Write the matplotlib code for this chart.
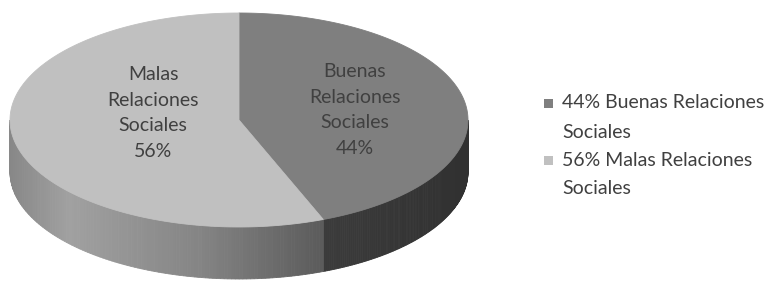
import numpy as np
import matplotlib
matplotlib.use('Agg')
import matplotlib.pyplot as plt
from matplotlib.patches import Polygon, Rectangle

# datos del gráfico
categorias = ['Buenas\nRelaciones\nSociales', 'Malas\nRelaciones\nSociales']
valores = [44, 56]
leyenda = ['44% Buenas Relaciones\nSociales', '56% Malas Relaciones\nSociales']
colores_sup = ['#7f7f7f', '#c0c0c0']

plt.rcParams['font.family'] = ['Lato', 'DejaVu Sans']

W, H = 771, 281
fig = plt.figure(figsize=(W / 100, H / 100), dpi=100)
ax = fig.add_axes([0, 0, 1, 1])
ax.set_xlim(0, W)
ax.set_ylim(H, 0)
ax.axis('off')

# geometría del pastel 3D (píxeles)
cx, cy, a, b, prof = 239, 120, 229, 107, 52

# sombreado del costado según la posición horizontal (x en píxeles -> gris),
# en el mismo orden que valores: Buenas, Malas
somb_x = [[336, 470], [10, 70, 200, 336]]
somb_g = [[0.23, 0.19], [0.53, 0.63, 0.52, 0.34]]


def punto(phi):
    return cx + a * np.cos(phi), cy - b * np.sin(phi)


total = sum(valores)
inicio = np.pi / 2
angulos = []
for v in valores:
    fin = inicio - 2 * np.pi * v / total
    angulos.append((inicio, fin))
    inicio = fin

# costados (sólo la parte frontal visible)
for k, (a0, a1) in enumerate(angulos):
    lo, hi = min(a0, a1), max(a0, a1)
    for desf in (0, -2 * np.pi, 2 * np.pi):
        l2, h2 = max(lo + desf, -np.pi), min(hi + desf, 0)
        if h2 <= l2:
            continue
        pasos = np.linspace(l2, h2, 120)
        for i in range(len(pasos) - 1):
            p0, p1 = pasos[i], pasos[i + 1]
            x0, y0 = punto(p0)
            x1, y1 = punto(p1)
            g = float(np.interp((x0 + x1) / 2, somb_x[k], somb_g[k]))
            c = (g, g, g)
            ax.add_patch(Polygon([(x0, y0), (x1, y1), (x1, y1 + prof), (x0, y0 + prof)],
                                 closed=True, fc=c, ec=c, lw=0.6))

# caras superiores
for (a0, a1), col in zip(angulos, colores_sup):
    t = np.linspace(a0, a1, 200)
    xs, ys = punto(t)
    pts = [(cx, cy)] + list(zip(xs, ys))
    ax.add_patch(Polygon(pts, closed=True, fc=col, ec=col, lw=0.6))

# etiquetas de datos
pos_etq = [(355, 110), (153, 113)]
for cat, v, (x, y) in zip(categorias, valores, pos_etq):
    ax.text(x, y, f'{cat}\n{v}%', ha='center', va='center', fontsize=14,
            color='#404040', linespacing=1.6)

# leyenda (dibujada a mano para alinear el cuadrito con la primera línea)
ley_y = [103, 160]
for txt, col, y in zip(leyenda, colores_sup, ley_y):
    ax.add_patch(Rectangle((544, y - 4.5), 9, 9, fc=col, ec='none'))
    for i, linea in enumerate(txt.split('\n')):
        ax.text(562, y + i * 29, linea, ha='left', va='center', fontsize=14,
                color='#404040')

fig.savefig('out.png', dpi=100)
